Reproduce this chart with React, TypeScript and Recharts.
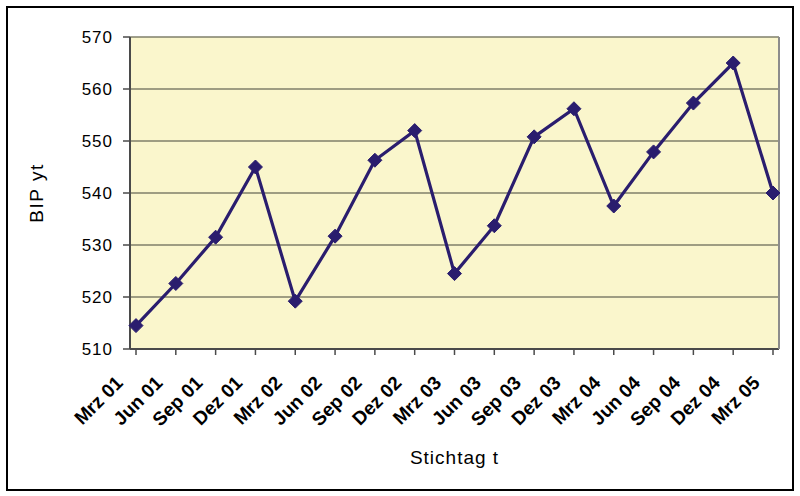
import React from 'react';
import { LineChart, Line, XAxis, YAxis, CartesianGrid } from 'recharts';

const categories = ['Mrz 01','Jun 01','Sep 01','Dez 01','Mrz 02','Jun 02','Sep 02','Dez 02','Mrz 03','Jun 03','Sep 03','Dez 03','Mrz 04','Jun 04','Sep 04','Dez 04','Mrz 05'];
const bipValues = [514.5,522.6,531.5,545.0,519.2,531.7,546.3,552.0,524.5,533.7,550.8,556.2,537.5,547.9,557.3,565.0,540.0];
const yTicks = [510,520,530,540,550,560,570];

const data = categories.map((c, i) => ({ t: c, y: bipValues[i] }));

const FONT = 'Arial, "Liberation Sans", sans-serif';

const XTick = (props: any) => {
  const { x, y, payload } = props;
  return (
    <g transform={`translate(${x},${y})`}>
      <text x={-12} y={27} textAnchor="end" fontFamily={FONT} fontWeight="bold" fontSize={19} fill="#000" transform="rotate(-45, -12, 27)">
        {payload.value}
      </text>
    </g>
  );
};

const Diamond = (props: any) => {
  const { cx, cy } = props;
  if (cx == null || cy == null) return null;
  const r = 7;
  return <path d={`M${cx},${cy - r}L${cx + r},${cy}L${cx},${cy + r}L${cx - r},${cy}Z`} fill="#2A1D6E" stroke="#2A1D6E" strokeWidth={1} />;
};

export default function App() {
  return (
    <div style={{ position: 'absolute', left: 0, top: 0, width: 800, height: 496, background: '#fff' }}>
      <div style={{ position: 'absolute', left: 6, top: 6, width: 784, height: 481, border: '2px solid #000' }} />
      <div style={{ position: 'absolute', left: 0, top: 0 }}>
        <LineChart width={800} height={496} data={data} margin={{ top: 37, right: 20, bottom: 10, left: 0 }}>
          <CartesianGrid horizontal vertical={false} stroke="#7F7F6A" strokeWidth={1.5} fill="#FAF6CC" />
          <XAxis
            dataKey="t"
            interval={0}
            padding={{ left: 6, right: 6 }}
            height={137}
            tick={<XTick />}
            tickSize={6}
            axisLine={{ stroke: '#4A4A4A', strokeWidth: 2 }}
            tickLine={{ stroke: '#4A4A4A', strokeWidth: 1.5 }}
            label={{ value: 'Stichtag t', position: 'insideBottom', offset: 22, fontFamily: FONT, fontSize: 19, letterSpacing: 1, fill: '#000' }}
          />
          <YAxis
            domain={[510, 570]}
            ticks={yTicks}
            width={130}
            tickSize={7}
            tick={{ fontFamily: FONT, fontSize: 17, letterSpacing: 1, fill: '#000' }}
            tickMargin={10}
            axisLine={{ stroke: '#4A4A4A', strokeWidth: 2 }}
            tickLine={{ stroke: '#4A4A4A', strokeWidth: 1.5 }}
            label={{ value: 'BIP yt', angle: -90, position: 'center', dx: -29, fontFamily: FONT, fontSize: 19, letterSpacing: 1.5, fill: '#000' }}
          />
          <YAxis
            yAxisId="frame"
            orientation="right"
            width={1}
            domain={[510, 570]}
            tick={false}
            tickLine={false}
            axisLine={{ stroke: '#8C8C8C', strokeWidth: 2 }}
          />
          <Line
            type="linear"
            dataKey="y"
            stroke="#2A1D6E"
            strokeWidth={3.2}
            dot={<Diamond />}
            activeDot={false}
            isAnimationActive={false}
          />
        </LineChart>
      </div>
    </div>
  );
}
